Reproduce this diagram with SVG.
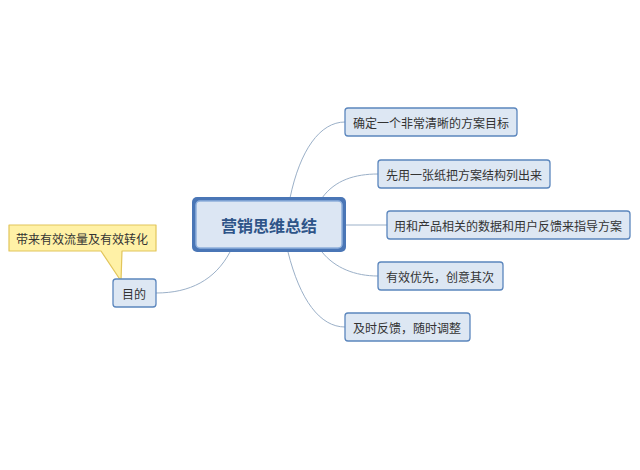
<svg xmlns="http://www.w3.org/2000/svg" width="640" height="470" viewBox="0 0 640 470">
<style>
text{font-family:"Noto Sans CJK SC","Noto Sans",sans-serif;fill:#333;font-size:12px;dominant-baseline:central}
.n rect{fill:#dde7f3;stroke:#5b86bd;stroke-width:1.3}
.c path{fill:none;stroke:#9bb0c8;stroke-width:1}
</style>
<rect width="640" height="470" fill="#fff"/>
<g class="c">
<path d="M290,198 C300,150 320,122 345,122"/>
<path d="M322,198 C335,180 355,174 378,174"/>
<path d="M346,225 L387,225"/>
<path d="M322,252 C335,268 355,276 378,276"/>
<path d="M288,252 C300,300 320,327 345,327"/>
<path d="M230,252 C215,280 190,293 156,293"/>
</g>
<g id="callout">
<path d="M9,225 H156 V251 H122 L121,281 L101,251 H9 Z" fill="#fff1a6" stroke="#e2c55a" stroke-width="1.2" stroke-linejoin="round"/>
<text x="82" y="238" text-anchor="middle">带来有效流量及有效转化</text>
</g>
<g id="center">
<rect x="192" y="197" width="154" height="55" rx="5" fill="#4a76b6"/>
<rect x="196" y="201" width="146" height="47" rx="4" fill="#dce6f3" stroke="#8fb0dc" stroke-width="1.5"/>
<text x="269" y="225" text-anchor="middle" style="font-size:16px;font-weight:bold;fill:#2e5488">营销思维总结</text>
</g>
<g id="n1" class="n"><rect x="345" y="108" width="172" height="28" rx="3"/><text x="431" y="122" text-anchor="middle">确定一个非常清晰的方案目标</text></g>
<g id="n2" class="n"><rect x="378" y="160" width="172" height="28" rx="3"/><text x="464" y="174" text-anchor="middle">先用一张纸把方案结构列出来</text></g>
<g id="n3" class="n"><rect x="387" y="211" width="243" height="28" rx="3"/><text x="508" y="225" text-anchor="middle">用和产品相关的数据和用户反馈来指导方案</text></g>
<g id="n4" class="n"><rect x="378" y="262" width="125" height="28" rx="3"/><text x="440" y="276" text-anchor="middle">有效优先，创意其次</text></g>
<g id="n5" class="n"><rect x="345" y="313" width="125" height="28" rx="3"/><text x="407" y="327" text-anchor="middle">及时反馈，随时调整</text></g>
<g id="goal" class="n"><rect x="113" y="279" width="43" height="28" rx="3"/><text x="134" y="293" text-anchor="middle">目的</text></g>
</svg>
